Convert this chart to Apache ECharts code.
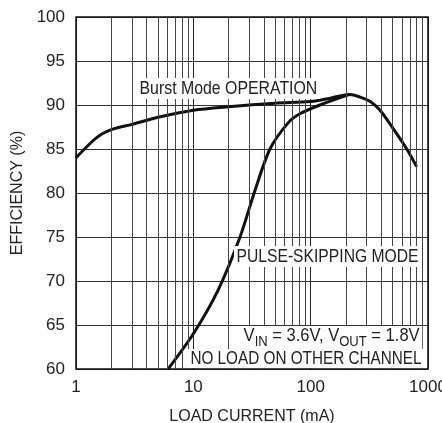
<!DOCTYPE html>
<html><head><meta charset="utf-8">
<script src="https://cdn.jsdelivr.net/npm/echarts@6/dist/echarts.min.js"></script>
<style>html,body{margin:0;padding:0;background:#fff}#c{width:442px;height:423px}</style>
</head><body><div id="c"></div>
<script>
const burstMode = [[1,84],[1.5,86.3],[2,87.2],[3,87.8],[5,88.6],[10,89.4],[20,89.8],[50,90.2],[100,90.4],[150,90.8],[215,91.2],[264,90.9],[322,90.4],[390,89.4],[500,87.4],[659,85],[800,83]];
const pulseSkipping = [[6.1,60],[10,64],[16.3,69],[25,75],[33,80],[45,85],[64.5,88],[81,89],[120,90],[215,91.2]];
const minorX = [2,3,4,5,6,7,8,9,20,30,40,50,60,70,80,90,200,300,400,500,600,700,800,900];
const xTicks = [1,10,100,1000];
const yMin = 60, yMax = 100, yStep = 5;

const FONT = '"Liberation Sans",Arial,sans-serif';
const chart = echarts.init(document.getElementById('c'));
function note(x, y, text, sx, extra) {
  const el = {type: 'text', x: x, y: y, z: 10, scaleX: sx, scaleY: 1,
    style: {text: text, font: '19px ' + FONT, fill: '#222', backgroundColor: '#fff', padding: [1,3,1,3]}};
  if (extra) Object.assign(el.style, extra);
  return el;
}
chart.setOption({
  animation: false,
  grid: {left: 76, right: 14, top: 17, bottom: 54, show: true, borderColor: '#111', borderWidth: 1.5, z: 5,
         containLabel: false, outerBoundsMode: 'none'},
  xAxis: {
    type: 'log', logBase: 10, min: 1, max: 1000,
    name: 'LOAD CURRENT (mA)', nameLocation: 'middle', nameGap: 40,
    nameTextStyle: {fontFamily: FONT, fontSize: 16, color: '#222'},
    axisLine: {show: false}, axisTick: {show: false},
    axisLabel: {fontFamily: FONT, fontSize: 17, color: '#222', margin: 10,
      alignMinLabel: 'center', alignMaxLabel: 'center', hideOverlap: false,
      formatter: v => xTicks.includes(Math.round(v)) ? String(Math.round(v)) : ''},
    splitLine: {show: true, lineStyle: {color: '#222', width: 1}}
  },
  yAxis: {
    type: 'value', min: yMin, max: yMax, interval: yStep,
    name: 'EFFICIENCY (%)', nameLocation: 'middle', nameGap: 47,
    nameTextStyle: {fontFamily: FONT, fontSize: 16, color: '#222'},
    axisLine: {show: false}, axisTick: {show: false},
    axisLabel: {fontFamily: FONT, fontSize: 17, color: '#222', margin: 11},
    splitLine: {show: true, lineStyle: {color: '#333', width: 1}}
  },
  series: [
    {type: 'line', data: [], silent: true, z: 1,
     markLine: {silent: true, symbol: ['none','none'], label: {show: false},
       lineStyle: {color: '#444', width: 1, type: 'solid'},
       data: minorX.map(v => ({xAxis: v}))}},
    {type: 'line', name: 'Burst Mode', data: burstMode, smooth: 0.3, showSymbol: false,
     lineStyle: {color: '#111', width: 3}, z: 3},
    {type: 'line', name: 'Pulse-Skipping', data: pulseSkipping, smooth: 0.3, showSymbol: false,
     lineStyle: {color: '#111', width: 3}, z: 3}
  ],
  graphic: [
    note(137, 78, 'Burst Mode OPERATION', 0.835),
    note(234, 246, 'PULSE-SKIPPING MODE', 0.825),
    note(241, 326, '', 0.87, {
      text: '{a|V}{s|IN}{a| = 3.6V, V}{s|OUT}{a| = 1.8V}', padding: [0,3,0,3],
      rich: {a: {font: '19px ' + FONT, fill: '#222', verticalAlign: 'bottom', padding: [0,0,4,0]},
             s: {font: '15px ' + FONT, fill: '#222', verticalAlign: 'bottom'}}}),
    note(188, 349, 'NO LOAD ON OTHER CHANNEL', 0.805, {padding: [0,3,0,3]})
  ]
});
</script></body></html>
